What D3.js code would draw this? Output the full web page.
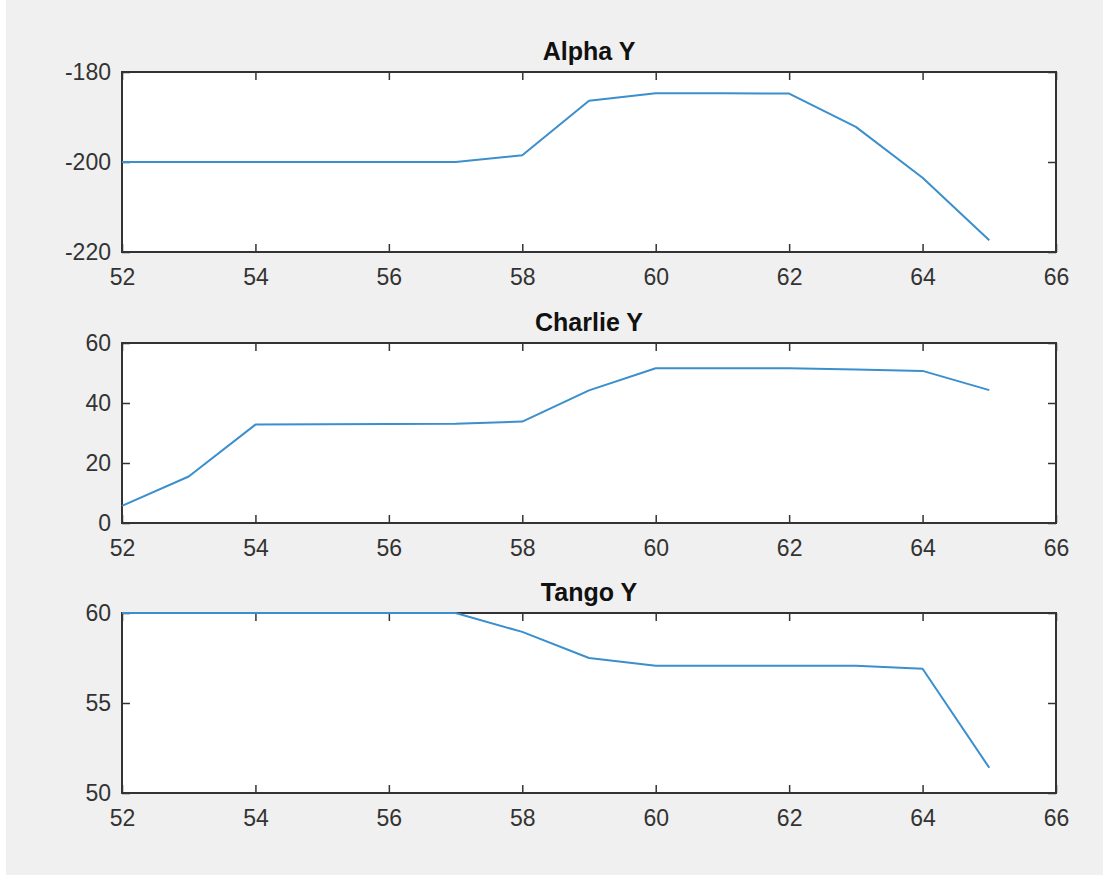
<!DOCTYPE html>
<html>
<head>
<meta charset="utf-8">
<script src="https://cdn.jsdelivr.net/npm/d3@7"></script>
<style>
  body { margin: 0; background: #ffffff; }
  svg { display: block; }
  .tick text { font-family: "Liberation Sans", Arial, sans-serif; }
</style>
</head>
<body>
<div id="chart"></div>
<script>
/* DATA */
const xValues = [52, 53, 54, 55, 56, 57, 58, 59, 60, 61, 62, 63, 64, 65];
const alphaY = [-200, -200, -200, -200, -200, -200, -198.5, -186.4, -184.7, -184.7, -184.8, -192.2, -203.5, -217.4];
const charlieY = [5.7, 15.5, 32.8, 32.9, 33, 33.1, 33.8, 44.2, 51.6, 51.6, 51.6, 51.2, 50.7, 44.3];
const tangoY = [60, 60, 60, 60, 60, 60, 58.95, 57.5, 57.07, 57.07, 57.07, 57.07, 56.9, 51.4];

const titles = ["Alpha Y", "Charlie Y", "Tango Y"];
const series = [alphaY, charlieY, tangoY];
const yDomains = [[-220, -180], [0, 60], [50, 60]];
const yTicks = [[-220, -200, -180], [0, 20, 40, 60], [50, 55, 60]];
const xDomain = [52, 66];
const xTicks = [52, 54, 56, 58, 60, 62, 64, 66];

/* CONSTANTS */
const width = 1103,
      height = 878,
      left = 122,
      right = 1056,
      panelTops = [72, 343, 613],
      panelHeight = 180,
      axisColor = "#333333",
      lineColor = "#3a8fcc";

const svg = d3.select("#chart")
  .append("svg")
    .attr("width", width)
    .attr("height", height);

/* FIGURE BACKGROUND */
svg.append("rect")
  .attr("x", 6)
  .attr("y", 0)
  .attr("width", width - 6)
  .attr("height", 875)
  .attr("fill", "#f0f0f0");

const xScale = d3.scaleLinear()
  .domain(xDomain)
  .range([left, right]);

const fmt = d => String(d);   // plain hyphen minus like MATLAB

series.forEach((vals, i) => {
  const top = panelTops[i];
  const bottom = top + panelHeight;

  const yScale = d3.scaleLinear()
    .domain(yDomains[i])
    .range([bottom, top]);

  const g = svg.append("g");

  // plot area
  g.append("rect")
    .attr("x", left)
    .attr("y", top)
    .attr("width", right - left)
    .attr("height", panelHeight)
    .attr("fill", "#ffffff");

  // bottom axis with labels, ticks pointing in
  const xAxis = g.append("g")
    .attr("transform", `translate(0,${bottom})`)
    .call(d3.axisBottom(xScale).tickValues(xTicks).tickFormat(fmt).tickSize(-8).tickSizeOuter(0).tickPadding(17));

  // left axis with labels
  const yAxis = g.append("g")
    .attr("transform", `translate(${left},0)`)
    .call(d3.axisLeft(yScale).tickValues(yTicks[i]).tickFormat(fmt).tickSize(-8).tickSizeOuter(0).tickPadding(11));

  // top and right: ticks only
  const xTop = g.append("g")
    .attr("transform", `translate(0,${top})`)
    .call(d3.axisTop(xScale).tickValues(xTicks).tickSize(-8).tickSizeOuter(0).tickFormat(""));

  const yRight = g.append("g")
    .attr("transform", `translate(${right},0)`)
    .call(d3.axisRight(yScale).tickValues(yTicks[i]).tickSize(-8).tickSizeOuter(0).tickFormat(""));

  [xAxis, yAxis, xTop, yRight].forEach(a => {
    a.select(".domain").remove();
    a.selectAll(".tick line").attr("stroke", axisColor).attr("stroke-width", 1.5);
    a.selectAll(".tick text")
      .attr("fill", "#333333")
      .style("font-size", "23px");
  });

  // box
  g.append("rect")
    .attr("x", left)
    .attr("y", top)
    .attr("width", right - left)
    .attr("height", panelHeight)
    .attr("fill", "none")
    .attr("stroke", axisColor)
    .attr("stroke-width", 2);

  // line, drawn over the box
  const line = d3.line()
    .x((d, j) => xScale(xValues[j]))
    .y(d => yScale(d));

  g.append("path")
    .datum(vals)
    .attr("fill", "none")
    .attr("stroke", lineColor)
    .attr("stroke-width", 2)
    .attr("stroke-linejoin", "round")
    .attr("d", line);

  // title
  g.append("text")
    .attr("x", (left + right) / 2)
    .attr("y", top - 12)
    .attr("text-anchor", "middle")
    .style("font-family", "'Liberation Sans', Arial, sans-serif")
    .style("font-size", "25px")
    .style("font-weight", "bold")
    .attr("fill", "#111111")
    .text(titles[i]);
});
</script>
</body>
</html>
